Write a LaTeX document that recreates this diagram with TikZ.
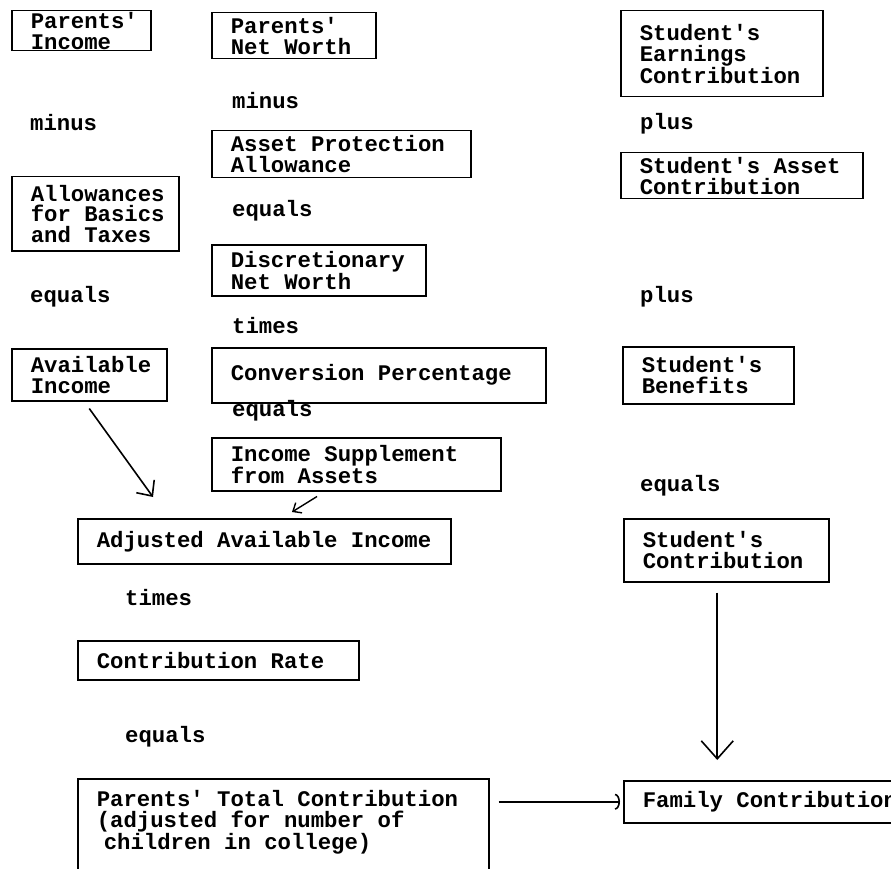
\documentclass[tikz,border=0pt]{standalone}
\usepackage{fontspec}
\newfontfamily\typerfont{Liberation Mono}
\newcommand{\typewritten}{\typerfont\bfseries\fontsize{22.3pt}{20.7pt}\selectfont\lefthyphenmin=62\relax}
% one typewriter space
\newcommand{\tsp}{\nobreak\hskip0.6em\relax}
\usetikzlibrary{arrows.meta, positioning}
\tikzset{
    box/.style={
        rectangle, draw=black, line width=1.5pt,
        anchor=north west, inner xsep=19pt, inner ysep=0pt,
        align=left, font=\typewritten
    },
    word/.style={anchor=west, inner sep=0pt, font=\typewritten},
    flow/.style={draw=black, line width=1.6pt, -{Straight Barb[length=12pt, width=22pt]}},
    smallflow/.style={draw=black, line width=1.4pt, -{Straight Barb[length=7pt, width=12pt]}},
    bigflow/.style={draw=black, line width=1.6pt, -{Straight Barb[length=18pt, width=32pt]}},
    sideflow/.style={draw=black, line width=1.6pt, -{Arc Barb[length=5pt, width=16pt]}}
}

\begin{document}
\begin{tikzpicture}[x=1pt, y=-1pt]
\useasboundingbox (0,0) rectangle (891,869);
\clip (0,0) rectangle (891,869);

% Left column: income
\node[box, text width=101pt, minimum height=40pt] (pinc) at (11,10) {Parents'\\Income};
\node[word] at (30,123) {minus};
\node[box, text width=129pt, minimum height=74pt] (allow) at (11,176) {Allowances\\for\tsp Basics\\and\tsp Taxes};
\node[word] at (30,297) {equals};
\node[box, text width=117pt, minimum height=52pt] (avinc) at (11,348) {Available\\Income};

% Middle column: assets
\node[box, text width=126pt, minimum height=46pt] (pnw) at (211,12) {Parents'\\Net\tsp Worth};
\node[word] at (232,101) {minus};
\node[box, text width=221pt, minimum height=47pt] (apa) at (211,130) {Asset\tsp Protection\\Allowance};
\node[word] at (232,211) {equals};
\node[box, text width=176pt, minimum height=51pt] (dnw) at (211,244) {Discretionary\\Net\tsp Worth};
\node[word] at (232,326) {times};
\node[box, text width=296pt, minimum height=55pt] (conv) at (211,347) {Conversion\tsp Percentage};
\node[word] at (232,411) {equals};
\node[box, text width=251pt, minimum height=53pt] (isa) at (211,437) {Income\tsp Supplement\\from\tsp Assets};

% Parents' total
\node[box, text width=335pt, minimum height=45pt] (adj) at (77,518) {Adjusted\tsp Available\tsp Income};
\node[word] at (125,598) {times};
\node[box, text width=243pt, minimum height=39pt] (crate) at (77,640) {Contribution\tsp Rate};
\node[word] at (125,737) {equals};
\node[box, text width=373pt, inner ysep=12pt, text depth=60pt] (ptc) at (77,778)
    {Parents'\tsp Total\tsp Contribution\\(adjusted\tsp for\tsp number\tsp of\\\hspace*{7pt}children\tsp in\tsp college)};

% Right column: student
\node[box, text width=164pt, minimum height=86pt] (sec) at (620,10) {Student's\\Earnings\\Contribution};
\node[word] at (640,124) {plus};
\node[box, text width=204pt, minimum height=46pt] (sac) at (620,152) {Student's\tsp Asset\\Contribution};
\node[word] at (640,297) {plus};
\node[box, text width=133pt, minimum height=57pt] (sben) at (622,346) {Student's\\Benefits};
\node[word] at (640,486) {equals};
\node[box, text width=167pt, minimum height=63pt] (scon) at (623,518) {Student's\\Contribution};
\node[box, text width=282pt, minimum height=42pt] (fam) at (623,780) {Family\tsp Contribution};

% Connections
\draw[flow] ([yshift=-7pt]avinc.south) -- ([xshift=76pt, yshift=21pt]adj.north west);
\draw[smallflow] ([xshift=106pt, yshift=-5pt]isa.south west) -- ([xshift=215pt, yshift=6pt]adj.north west);
\draw[bigflow] ([xshift=-9pt, yshift=-10pt]scon.south) -- ([xshift=-9pt, yshift=20pt]scon.south |- fam.north);
\draw[sideflow] ([xshift=9pt]ptc.east |- fam.west) -- ([xshift=-3pt]fam.west);

\end{tikzpicture}
\end{document}
